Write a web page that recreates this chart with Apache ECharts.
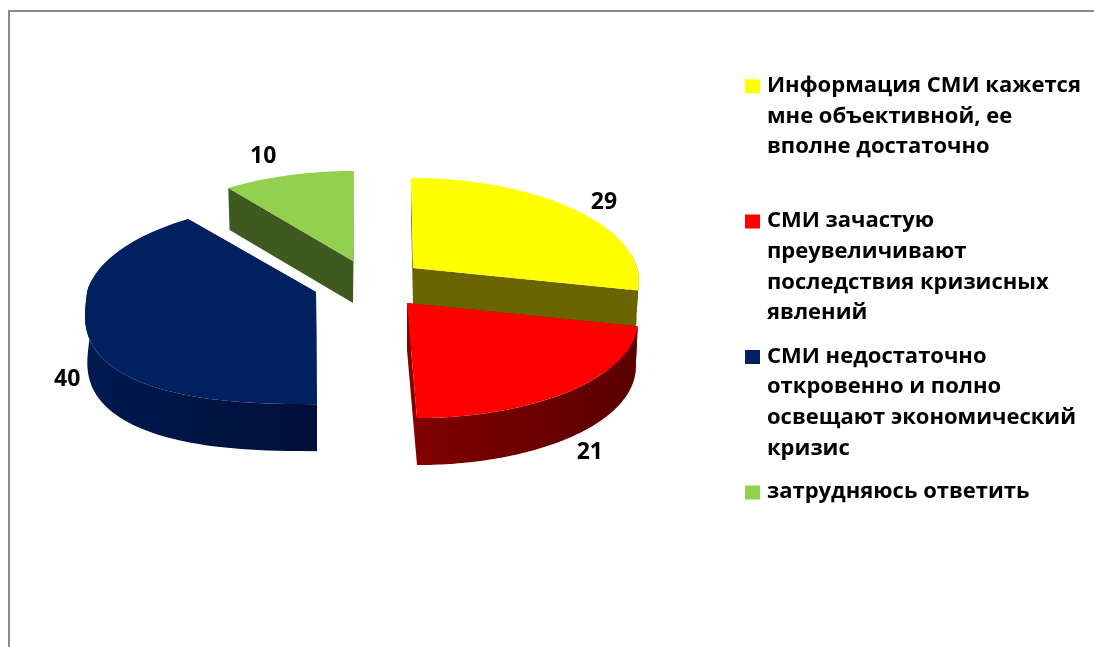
<!DOCTYPE html>
<html><head><meta charset="utf-8">
<style>html,body{margin:0;padding:0;background:#fff}#c{width:1094px;height:647px}</style>
<script src="https://cdn.jsdelivr.net/npm/echarts@6/dist/echarts.min.js"></script>
</head><body><div id="c"></div>
<script>
const categories = [
  'Информация СМИ кажется\nмне объективной, ее\nвполне достаточно',
  'СМИ зачастую\nпреувеличивают\nпоследствия кризисных\nявлений',
  'СМИ недостаточно\nоткровенно и полно\nосвещают экономический\nкризис',
  'затрудняюсь ответить'
];
const values = [29, 21, 40, 10];

const topColors  = ['#ffff00', '#ff0000', '#002060', '#92d050'];
const wallColors = ['#6b6500', '#860000', '#001a50', '#3f5a20'];
const rimLeft    = ['#6b6500', '#800000', '#001a50', '#3f5a20'];
const rimRight   = ['#6b6500', '#5a0000', '#000f38', '#3f5a20'];
const apexes = [[413, 268], [407, 303], [316, 292], [353, 261]];
const leans  = [2, 10, 1, -1];
const depths = [36, 47, 47, 42];
const radiiX = [224, 228, 229, 226];
const warpDeg = [4, 3, 1.6, 1.6];
const lowerLeftPower = [1, 1, 2 / 2.6, 1];
const frontScale = [1, 1, 0.975, 1];
const labelNudge = [[18, -13], [13, 18], [-22, 1], [-25, -19]];
const zOrder = [3, 4, 1, 2];
const RY = 101, K = 0.122, SHRINK = 0.99;
const LABEL_FONT = 'bold 23px "Open Sans"';

const total = values.reduce((a, b) => a + b, 0);
const startAngles = values.map((v, i) => values.slice(0, i).reduce((a, b) => a + b, 0) / total * 2 * Math.PI);

function rimPoint(i, a0, low) {
  const a = a0 + warpDeg[i] * Math.PI / 180 * Math.sin(2 * a0);
  const sinA = Math.sin(a), cosA = Math.cos(a);
  const w = 1 + K * cosA;
  let X = sinA, Y = cosA;
  if (X < 0 && Y < 0) {
    X = -Math.pow(-X, lowerLeftPower[i]);
    Y = -Math.pow(-Y, lowerLeftPower[i]);
  }
  const rx = radiiX[i] * (low ? SHRINK : 1);
  const ry = RY * (Y < 0 ? frontScale[i] : 1);
  return [apexes[i][0] + rx * X / w - leans[i] * Y,
          apexes[i][1] - ry * Y / w + (low ? depths[i] : 0)];
}

function renderSlice(i) {
  return function (params, api) {
    const v = api.value(0);
    const a0 = startAngles[i], a1 = a0 + v / total * 2 * Math.PI;
    const ap = apexes[i], apLow = [ap[0], ap[1] + depths[i]];
    const arc = [], n = 90;
    for (let s = 0; s <= n; s++) arc.push(a0 + (a1 - a0) * s / n);
    const children = [];
    const poly = (points, fill) => children.push({ type: 'polygon', shape: { points }, style: { fill } });

    poly([ap, rimPoint(i, a0, false), rimPoint(i, a0, true), apLow], wallColors[i]);
    poly([ap, rimPoint(i, a1, false), rimPoint(i, a1, true), apLow], wallColors[i]);

    const vis = arc.filter(a => a > Math.PI * 0.45 && a < Math.PI * 1.55);
    if (vis.length > 1) {
      const top = vis.map(a => rimPoint(i, a, false));
      const bot = vis.map(a => rimPoint(i, a, true)).reverse();
      poly(top.concat(bot), new echarts.graphic.LinearGradient(0, 0, 1, 0, [
        { offset: 0, color: rimLeft[i] },
        { offset: 1, color: rimRight[i] }
      ]));
    }
    poly([ap].concat(arc.map(a => rimPoint(i, a, false))), topColors[i]);

    const mid = (a0 + a1) / 2, anchor = rimPoint(i, mid, Math.cos(mid) < 0);
    children.push({
      type: 'text',
      style: {
        x: anchor[0] + labelNudge[i][0], y: anchor[1] + labelNudge[i][1],
        text: String(v), fill: '#000', font: LABEL_FONT, align: 'center', verticalAlign: 'middle'
      }
    });
    return { type: 'group', children };
  };
}

const legendNames = categories.map(c => {
  const lines = c.split('\n');
  while (lines.length < 4) lines.push('');
  return lines.join('\n');
});

const chart = echarts.init(document.getElementById('c'), null, { renderer: 'canvas' });
chart.setOption({
  animation: false,
  backgroundColor: '#ffffff',
  graphic: [
    { type: 'rect', shape: { x: 8, y: 10, width: 1086, height: 2 }, style: { fill: '#888888' } },
    { type: 'rect', shape: { x: 8, y: 10, width: 2, height: 637 }, style: { fill: '#888888' } }
  ],
  legend: {
    orient: 'vertical',
    left: 745, top: 70.5,
    padding: 0,
    itemWidth: 17, itemHeight: 122, itemGap: 13,
    icon: 'path://M0 8.5h15v14H0zM0 0h17zM0 122h17z',
    selectedMode: false,
    textStyle: { fontFamily: 'Open Sans', fontWeight: 'bold', fontSize: 22, color: '#000', lineHeight: 30.6 },
    data: legendNames
  },
  series: values.map((v, i) => ({
    type: 'custom',
    name: legendNames[i],
    coordinateSystem: 'none',
    z: zOrder[i],
    silent: true,
    itemStyle: { color: topColors[i] },
    renderItem: renderSlice(i),
    data: [[v]]
  }))
});
</script></body></html>
